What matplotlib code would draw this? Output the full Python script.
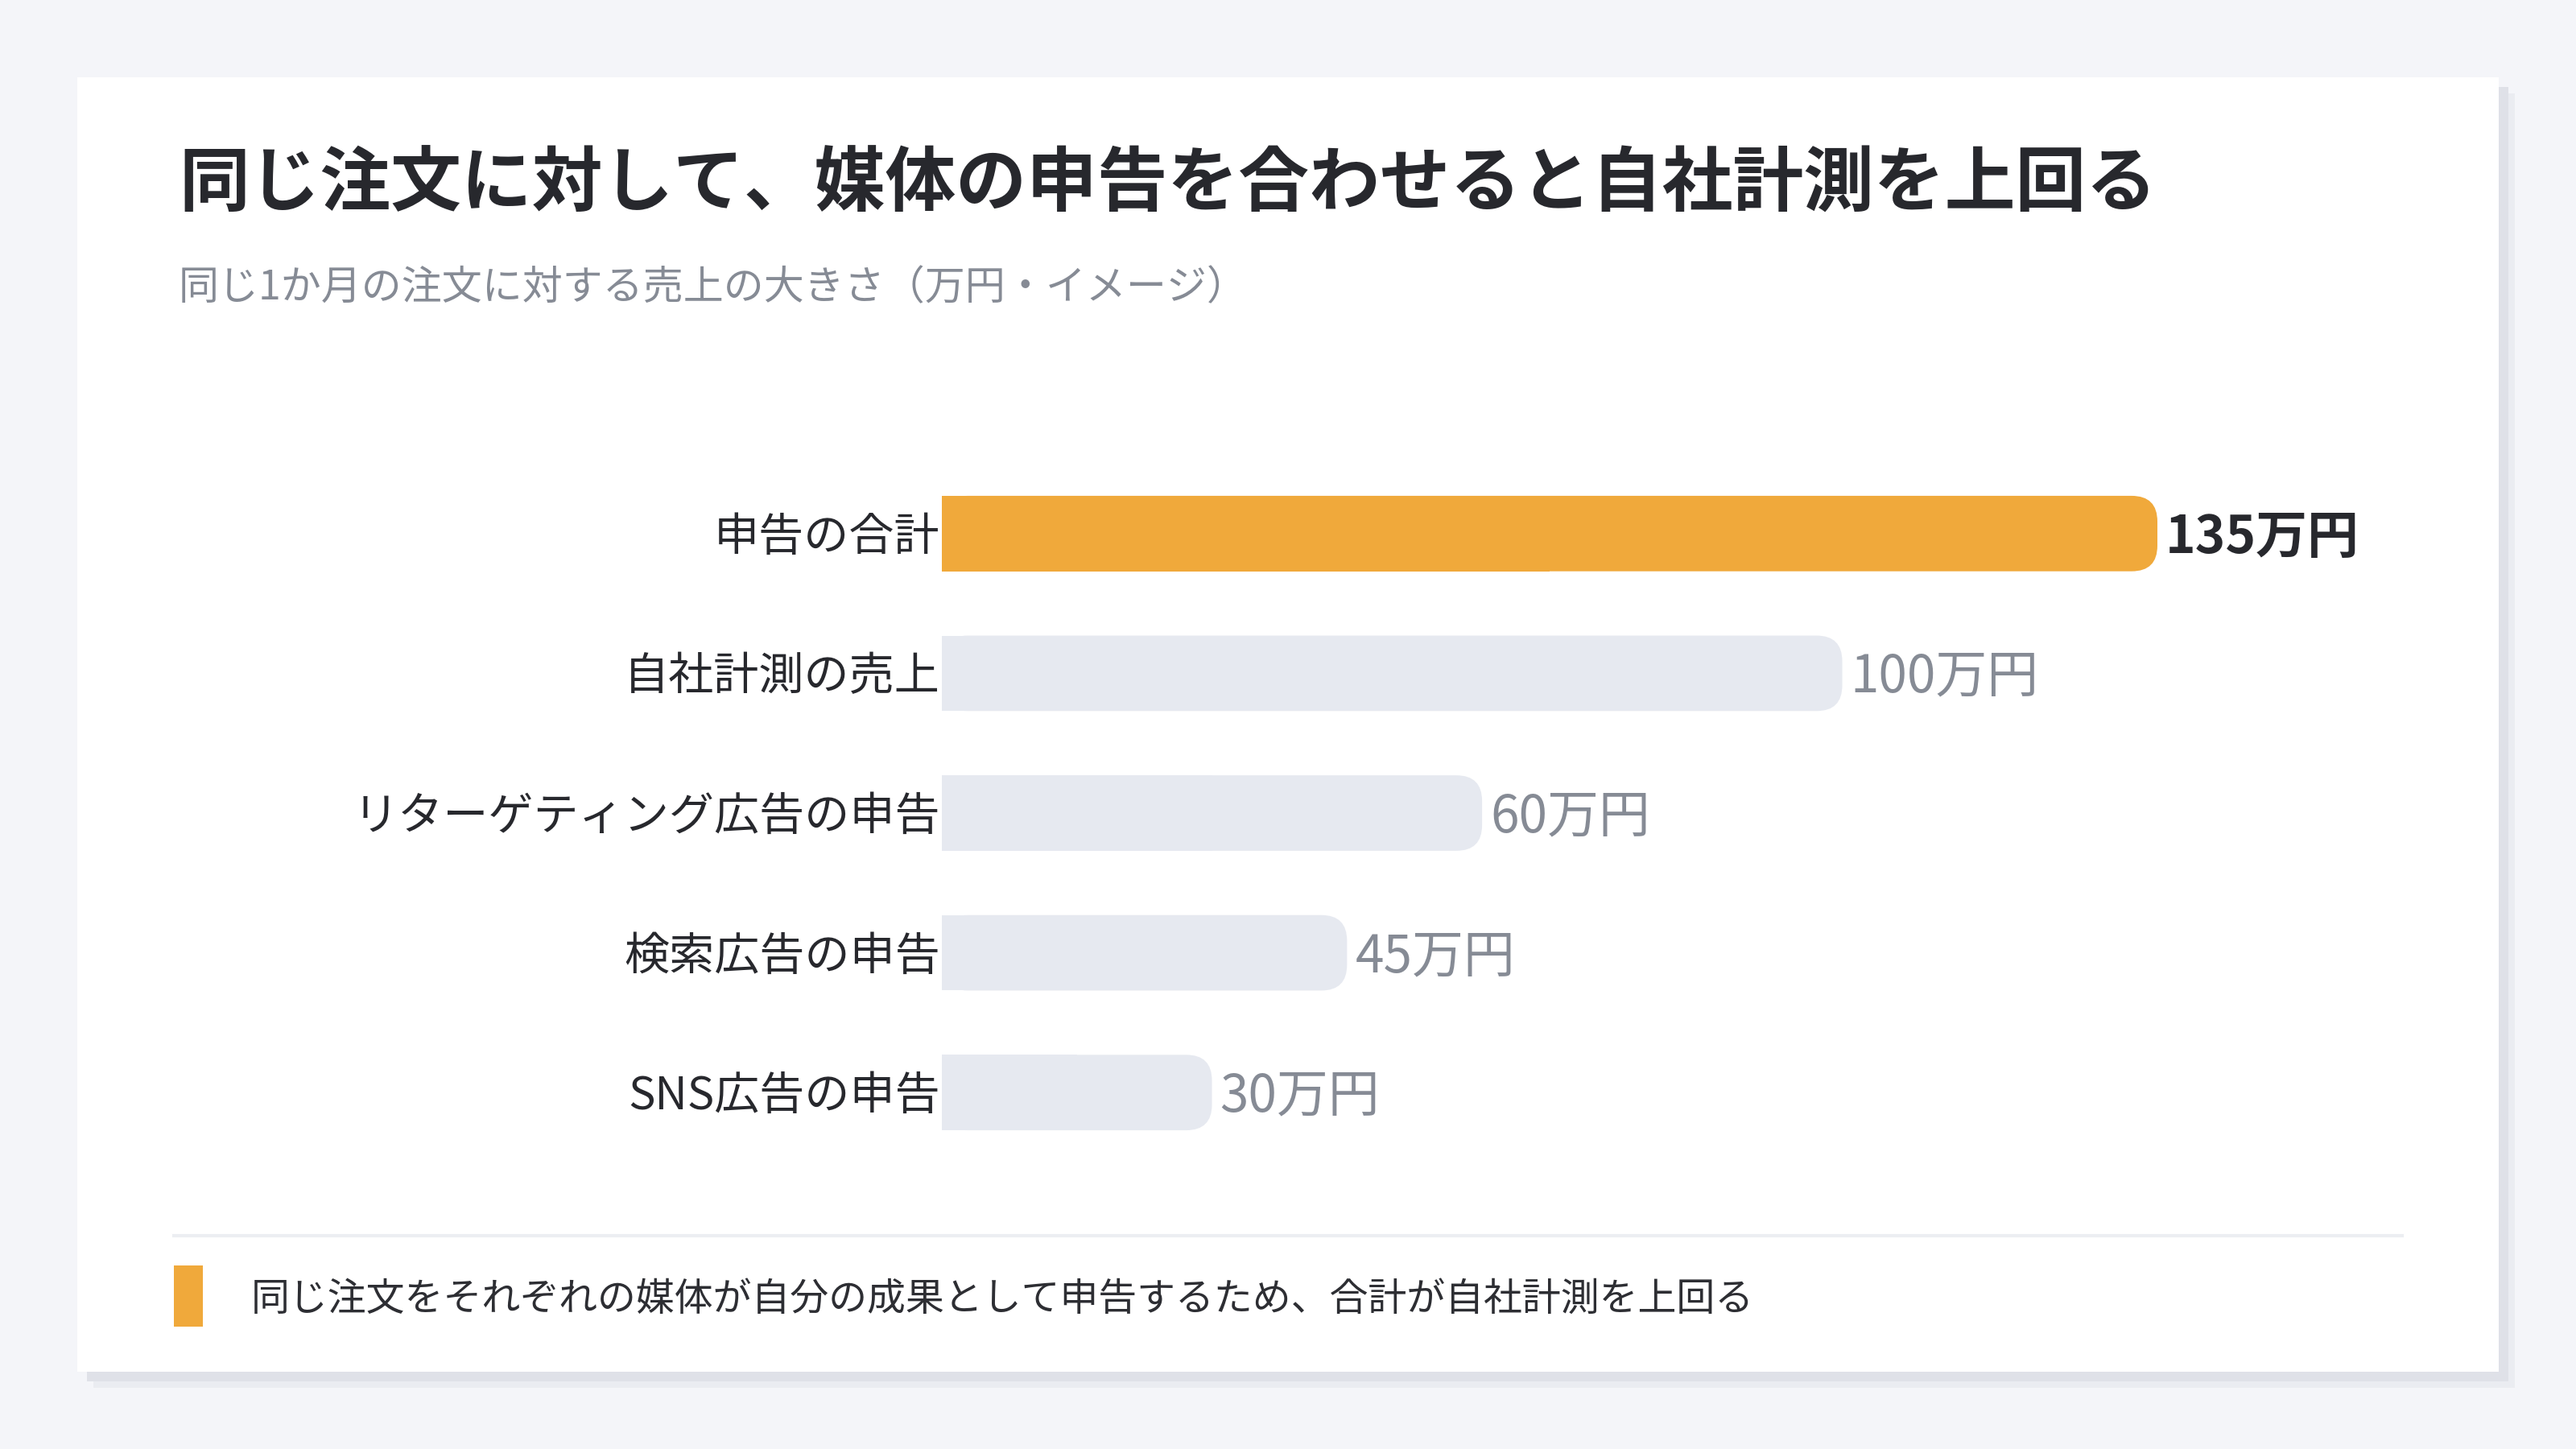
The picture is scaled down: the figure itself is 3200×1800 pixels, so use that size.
import matplotlib
matplotlib.use("Agg")
import matplotlib.pyplot as plt
from matplotlib.patches import FancyBboxPatch, Rectangle
from matplotlib.lines import Line2D

plt.rcParams["font.family"] = ["Noto Sans CJK JP", "DejaVu Sans"]

# データ
categories = ["申告の合計", "自社計測の売上", "リターゲティング広告の申告", "検索広告の申告", "SNS広告の申告"]
values = [135, 100, 60, 45, 30]
value_labels = ["135万円", "100万円", "60万円", "45万円", "30万円"]
highlight = [True, False, False, False, False]

title = "同じ注文に対して、媒体の申告を合わせると自社計測を上回る"
subtitle = "同じ1か月の注文に対する売上の大きさ（万円・イメージ）"
note = "同じ注文をそれぞれの媒体が自分の成果として申告するため、合計が自社計測を上回る"

ORANGE = "#f0a93b"
GRAY_BAR = "#e6e9f0"
DARK = "#27282d"
MUTED = "#868b95"

W, H = 3200, 1800
fig = plt.figure(figsize=(16, 9), dpi=200)
fig.patch.set_facecolor("#f4f5f9")


def px(x, y):
    # 左上原点のピクセル -> figure座標
    return x / W, 1 - y / H


# カードと影
for off, col in [(20, "#eaecf1"), (12, "#dfe1e8")]:
    x0, y1 = px(96 + off, 1704 + off)
    x1, y0 = px(3104 + off, 96 + off)
    fig.patches.append(Rectangle((x0, y1), x1 - x0, y0 - y1, transform=fig.transFigure,
                                 facecolor=col, edgecolor="none", zorder=-10))
x0, y1 = px(96, 1704)
x1, y0 = px(3104, 96)
fig.patches.append(Rectangle((x0, y1), x1 - x0, y0 - y1, transform=fig.transFigure,
                             facecolor="white", edgecolor="none", zorder=-9))

# タイトル
fig.text(*px(222, 230), title, fontsize=31.6, fontweight="bold", color=DARK, ha="left", va="center")
fig.text(*px(222, 358), subtitle, fontsize=18, color=MUTED, ha="left", va="center")

# 棒グラフ
ax_left, ax_right = 1170, 3000
ax_top, ax_bottom = 576, 1444
unit_px = (2680 - 1170) / 135
ax = fig.add_axes([ax_left / W, 1 - ax_bottom / H, (ax_right - ax_left) / W, (ax_bottom - ax_top) / H])
ax.set_xlim(0, (ax_right - ax_left) / unit_px)
ax.set_ylim(len(categories) - 0.5, -0.5)
ax.axis("off")
ax.patch.set_alpha(0)

bar_h = 0.54
radius_px = 32
ypx_per_unit = (ax_bottom - ax_top) / len(categories)
r_x = radius_px / unit_px
aspect = (1 / ypx_per_unit) / (1 / unit_px)
text_dy = 0.03

for i, (cat, v, lab, hl) in enumerate(zip(categories, values, value_labels, highlight)):
    col = ORANGE if hl else GRAY_BAR
    rb = FancyBboxPatch((0, i - bar_h / 2), v, bar_h,
                        boxstyle=f"round,pad=0,rounding_size={r_x}",
                        mutation_aspect=aspect, facecolor=col, edgecolor="none")
    ax.add_patch(rb)
    ax.add_patch(Rectangle((0, i - bar_h / 2), v / 2, bar_h, facecolor=col, edgecolor="none"))
    ax.text(-0.2, i + text_dy, cat, ha="right", va="center", fontsize=20.2, color=DARK, clip_on=False)
    ax.text(v + 0.9, i + text_dy, lab, ha="left", va="center", fontsize=23,
            color=DARK if hl else MUTED, fontweight="bold" if hl else "normal")

# 区切り線と注記
lx0, ly = px(216, 1535)
lx1, _ = px(2984, 1535)
fig.lines.append(Line2D([lx0, lx1], [ly, ly], transform=fig.transFigure, color="#eceef2", linewidth=1.5))
bx0, by1 = px(216, 1648)
bx1, by0 = px(252, 1572)
fig.patches.append(Rectangle((bx0, by1), bx1 - bx0, by0 - by1, transform=fig.transFigure,
                             facecolor=ORANGE, edgecolor="none"))
fig.text(*px(312, 1614), note, fontsize=17.25, color="#2d2e33", ha="left", va="center")

fig.savefig("out.png", dpi=200, facecolor=fig.get_facecolor())
